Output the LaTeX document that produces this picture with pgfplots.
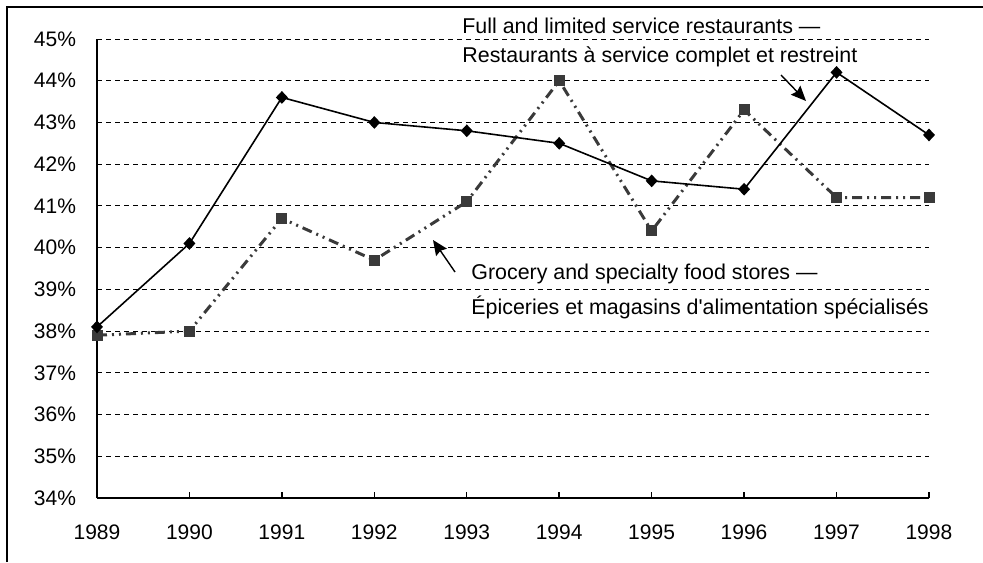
\documentclass[border=0pt]{standalone}
\usepackage{fontspec}
\setmainfont{Liberation Sans}
\usepackage{pgfplots}
\pgfplotsset{compat=1.18}
\usetikzlibrary{arrows.meta}
\definecolor{grocery}{HTML}{3A3A3A}
\begin{document}
\begin{tikzpicture}[x=0.5pt,y=0.5pt,font=\fontsize{10.7}{12}\selectfont]
\path[use as bounding box] (0,0) rectangle (983,562);
\draw[line width=1pt] (7,0) -- (7,555) -- (983,555);
\begin{axis}[
  at={(48.5pt,32pt)}, anchor=south west,
  scale only axis, width=416pt, height=229.5pt,
  xmin=1989, xmax=1998, ymin=34, ymax=45,
  axis x line=bottom, axis y line=left,
  axis line style={line width=0.8pt,-},
  xtick={1989,...,1998}, ytick={34,...,45},
  xtick align=inside, major tick length=3pt,
  xtick style={line width=0.7pt,black},
  ytick style={draw=none},
  ymajorgrids,
  major grid style={black, line width=0.45pt, dash pattern=on 2.5pt off 2pt},
  /pgf/number format/assume math mode=true,
  /pgf/number format/1000 sep={},
  tick label style={font=\fontsize{10.5}{12}\selectfont},
  xticklabel style={yshift=-10pt},
  yticklabel style={xshift=-5.5pt},
  yticklabel={\pgfmathprintnumber{\tick}\%},
  clip=false,
]
\addplot[grocery, line width=1.5pt, dash pattern=on 5pt off 2.5pt on 1pt off 2.5pt on 1pt off 2.5pt,
  mark=square*, mark size=2pt, mark options={solid, fill=grocery, draw=grocery}]
  coordinates {(1989,37.9) (1990,38.0) (1991,40.7) (1992,39.7) (1993,41.1)
               (1994,44.0) (1995,40.4) (1996,43.3) (1997,41.2) (1998,41.2)};
\addplot[black, line width=0.8pt, mark=diamond*, mark size=2.6pt, mark options={solid, fill=black, xscale=1.25}]
  coordinates {(1989,38.1) (1990,40.1) (1991,43.6) (1992,43.0) (1993,42.8)
               (1994,42.5) (1995,41.6) (1996,41.4) (1997,44.2) (1998,42.7)};
\end{axis}
\node[anchor=west, inner sep=0] at (462,536) {Full and limited service restaurants —};
\node[anchor=west, inner sep=0] at (462,505) {Restaurants à service complet et restreint};
\node[anchor=west, inner sep=0] at (471,288) {Grocery and specialty food stores —};
\node[anchor=west, inner sep=0] at (471,255) {Épiceries et magasins d\textquotesingle alimentation spécialisés};
\draw[line width=0.7pt, -{Stealth[length=7.5pt,width=6.5pt,inset=1pt]}] (781,487) -- (806,461);
\draw[line width=0.7pt, -{Stealth[length=7.5pt,width=6.5pt,inset=1pt]}] (455,290) -- (433,322);
\end{tikzpicture}
\end{document}
